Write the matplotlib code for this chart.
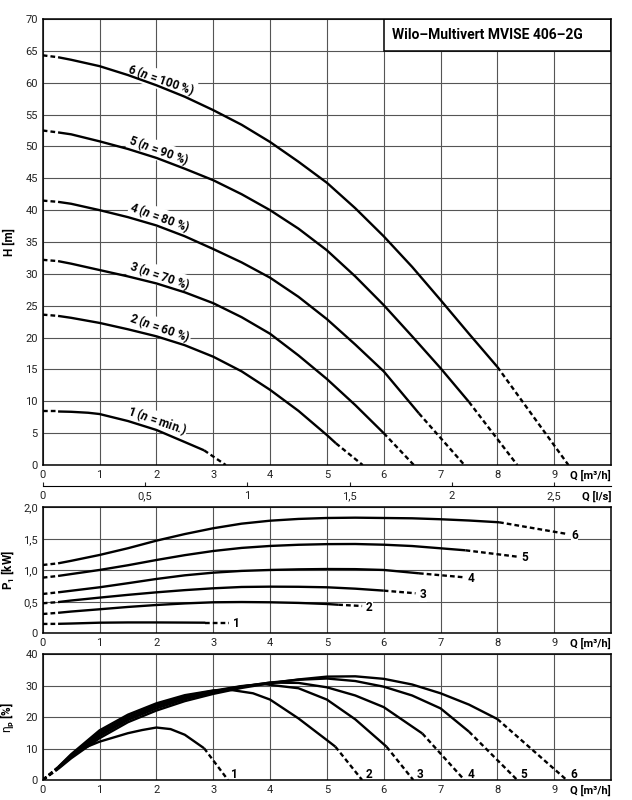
import matplotlib.pyplot as plt
from matplotlib.patches import Rectangle

FONT = 'Roboto'
plt.rcParams['font.family'] = [FONT, 'DejaVu Sans']
plt.rcParams['mathtext.fontset'] = 'custom'
plt.rcParams['mathtext.rm'] = FONT
plt.rcParams['mathtext.bf'] = FONT + ':bold'
plt.rcParams['mathtext.it'] = FONT + ':italic:bold'
plt.rcParams['mathtext.sf'] = FONT

# ---- data (Q in m3/h) ----
# each curve: first segment and last segment are dashed, rest solid
# head H [m]
q_h1 = [0, 0.27, 0.5, 0.8, 1, 1.5, 2, 2.5, 2.84, 3.22]
h_1 = [8.4, 8.4, 8.35, 8.2, 8.0, 6.9, 5.5, 3.6, 2.3, 0]
q_h2 = [0, 0.27, 0.5, 1, 1.5, 2, 2.5, 3, 3.5, 4, 4.5, 5, 5.16, 5.63]
h_2 = [23.6, 23.4, 23.1, 22.3, 21.3, 20.2, 18.8, 17.0, 14.7, 11.8, 8.5, 4.7, 3.4, 0]
q_h3 = [0, 0.27, 0.5, 1, 1.5, 2, 2.5, 3, 3.5, 4, 4.5, 5, 5.5, 6, 6.53]
h_3 = [32.2, 32.0, 31.6, 30.6, 29.6, 28.5, 27.1, 25.4, 23.2, 20.6, 17.2, 13.5, 9.4, 5.0, 0]
q_h4 = [0, 0.27, 0.5, 1, 1.5, 2, 2.5, 3, 3.5, 4, 4.5, 5, 5.5, 6, 6.62, 7.42]
h_4 = [41.5, 41.3, 41.0, 40.0, 38.9, 37.6, 35.9, 33.9, 31.8, 29.4, 26.4, 22.9, 18.9, 14.7, 8.1, 0]
q_h5 = [0, 0.27, 0.5, 1, 1.5, 2, 2.5, 3, 3.5, 4, 4.5, 5, 5.5, 6, 6.5, 7, 7.5, 8.35]
h_5 = [52.5, 52.2, 51.9, 50.8, 49.6, 48.2, 46.5, 44.7, 42.5, 40.0, 37.1, 33.7, 29.6, 25.1, 20.2, 15.2, 9.9, 0]
q_h6 = [0, 0.27, 0.5, 1, 1.5, 2, 2.5, 3, 3.5, 4, 4.5, 5, 5.5, 6, 6.5, 7, 7.5, 8.0, 9.25]
h_6 = [64.3, 64.0, 63.6, 62.6, 61.2, 59.6, 57.8, 55.7, 53.4, 50.7, 47.6, 44.3, 40.3, 35.9, 31.1, 25.9, 20.6, 15.4, 0]

# power P1 [kW]
q_p1 = [0, 0.27, 0.5, 1, 1.5, 2, 2.5, 2.86, 3.27]
p_1 = [0.148, 0.15, 0.155, 0.168, 0.172, 0.172, 0.17, 0.168, 0.168]
q_p2 = [0, 0.27, 0.5, 1, 1.5, 2, 2.5, 3, 3.5, 4, 4.5, 5, 5.2, 5.62]
p_2 = [0.306, 0.325, 0.345, 0.381, 0.418, 0.449, 0.474, 0.492, 0.496, 0.492, 0.482, 0.465, 0.453, 0.433]
q_p3 = [0, 0.27, 0.5, 1, 1.5, 2, 2.5, 3, 3.5, 4, 4.5, 5, 5.5, 6, 6.56]
p_3 = [0.476, 0.495, 0.52, 0.566, 0.61, 0.65, 0.685, 0.714, 0.735, 0.74, 0.738, 0.73, 0.708, 0.677, 0.635]
q_p4 = [0, 0.27, 0.5, 1, 1.5, 2, 2.5, 3, 3.5, 4, 4.5, 5, 5.5, 6, 6.62, 7.41]
p_4 = [0.624, 0.65, 0.675, 0.73, 0.795, 0.862, 0.92, 0.962, 0.99, 1.005, 1.015, 1.02, 1.018, 1.005, 0.952, 0.889]
q_p5 = [0, 0.27, 0.5, 1, 1.5, 2, 2.5, 3, 3.5, 4, 4.5, 5, 5.5, 6, 6.5, 7, 7.44, 8.35]
p_5 = [0.883, 0.91, 0.94, 1.005, 1.08, 1.163, 1.24, 1.306, 1.355, 1.386, 1.405, 1.415, 1.417, 1.406, 1.385, 1.349, 1.317, 1.216]
q_p6 = [0, 0.27, 0.5, 1, 1.5, 2, 2.5, 3, 3.5, 4, 4.5, 5, 5.5, 6, 6.5, 7, 7.5, 8.03, 9.23]
p_6 = [1.084, 1.11, 1.15, 1.243, 1.35, 1.47, 1.575, 1.667, 1.74, 1.787, 1.815, 1.83, 1.835, 1.83, 1.825, 1.81, 1.79, 1.762, 1.576]

# efficiency eta_p [%]
q_e1 = [0, 0.27, 0.5, 0.7, 1, 1.5, 1.75, 2, 2.25, 2.5, 2.84, 3.26]
e_1 = [0, 3.8, 7.5, 10.0, 12.2, 14.9, 15.9, 16.7, 16.2, 14.4, 10.1, 0]
q_e2 = [0, 0.27, 0.5, 1, 1.5, 2, 2.5, 3, 3.3, 3.7, 4, 4.5, 5, 5.15, 5.62]
e_2 = [0, 4.1, 8.2, 15.8, 20.8, 24.4, 27.0, 28.5, 28.7, 27.6, 25.6, 19.6, 12.7, 10.6, 0]
q_e3 = [0, 0.27, 0.5, 1, 1.5, 2, 2.5, 3, 3.5, 3.9, 4.5, 5, 5.5, 6.05, 6.52]
e_3 = [0, 4.0, 7.9, 15.2, 20.2, 23.9, 26.6, 28.4, 29.9, 30.5, 29.2, 25.6, 19.3, 10.6, 0]
q_e4 = [0, 0.27, 0.5, 1, 1.5, 2, 2.5, 3, 3.5, 4, 4.5, 5, 5.5, 6, 6.68, 7.42]
e_4 = [0, 3.8, 7.6, 14.6, 19.6, 23.4, 26.1, 28.2, 29.8, 31.0, 30.9, 29.5, 26.9, 23.2, 14.8, 0]
q_e5 = [0, 0.27, 0.5, 1, 1.5, 2, 2.5, 3, 3.5, 4, 4.5, 5, 5.5, 6, 6.5, 7, 7.5, 8.35]
e_5 = [0, 3.7, 7.3, 14.0, 19.1, 22.8, 25.7, 27.9, 29.7, 31.0, 31.9, 32.3, 31.5, 29.7, 26.9, 22.8, 15.4, 0]
q_e6 = [0, 0.27, 0.5, 1, 1.5, 2, 2.5, 3, 3.5, 4, 4.5, 5, 5.5, 6, 6.5, 7, 7.5, 8.0, 9.22]
e_6 = [0, 3.5, 6.9, 13.3, 18.4, 22.1, 25.1, 27.4, 29.3, 30.8, 32.0, 32.9, 33.0, 32.2, 30.4, 27.6, 24.0, 19.4, 0]

curve_names = ['1', '2', '3', '4', '5', '6']
head_labels = ['1 ($n$ = min.)', '2 ($n$ = 60 %)', '3 ($n$ = 70 %)',
               '4 ($n$ = 80 %)', '5 ($n$ = 90 %)', '6 ($n$ = 100 %)']
head_label_x = [2.01, 2.06, 2.06, 2.06, 2.04, 2.09]
head_label_y = [6.9, 21.5, 29.7, 38.8, 49.3, 60.4]
head_label_rot = [-19, -19, -19, -20, -20, -19]

h_ticks = list(range(0, 75, 5))
p_ticks = [0, 0.5, 1.0, 1.5, 2.0]
p_tick_labels = ['0', '0,5', '1,0', '1,5', '2,0']
e_ticks = [0, 10, 20, 30, 40]
ls_ticks = [0, 0.5, 1, 1.5, 2, 2.5]
ls_tick_labels = ['0', '0,5', '1', '1,5', '2', '2,5']
title = 'Wilo\u2013Multivert MVISE 406\u20132G'

LW = 1.7
DASH = (0, (2.0, 1.3))


def draw_curve(ax, q, v):
    ax.plot(q[:2], v[:2], color='black', lw=LW, ls=DASH, zorder=3)
    ax.plot(q[1:-1], v[1:-1], color='black', lw=LW, zorder=3,
            solid_capstyle='butt', solid_joinstyle='round')
    ax.plot(q[-2:], v[-2:], color='black', lw=LW, ls=DASH, zorder=3)


def style_axes(ax, yticks, ytick_labels, ymax, ylabel):
    ax.set_xlim(0, 10)
    ax.set_ylim(0, ymax)
    ax.set_xticks(range(10))
    ax.set_yticks(yticks)
    ax.set_yticklabels(ytick_labels)
    ax.set_axisbelow(True)
    ax.grid(True, color='#555555', lw=0.8)
    ax.tick_params(length=0, pad=3.5, labelsize=8, colors='#222222')
    for s in ax.spines.values():
        s.set_linewidth(1.1)
    ax.set_ylabel(ylabel, fontweight='bold', fontsize=8.5)
    ax.yaxis.set_label_coords(-0.047, 0.5)
    ax.annotate('Q [m³/h]', xy=(1, 0), xycoords='axes fraction',
                xytext=(0, -3.5), textcoords='offset points',
                ha='right', va='top', fontweight='bold', fontsize=8)


fig = plt.figure(figsize=(6.32, 8), dpi=100)
ax_h = fig.add_axes([0.0676, 0.41875, 0.8992, 0.5575])
ax_p = fig.add_axes([0.0676, 0.2084, 0.8992, 0.1575])
ax_e = fig.add_axes([0.0676, 0.025, 0.8992, 0.1571])

# ---- head ----
style_axes(ax_h, h_ticks, [str(t) for t in h_ticks], 70, 'H [m]')
for q, h in zip([q_h1, q_h2, q_h3, q_h4, q_h5, q_h6],
                [h_1, h_2, h_3, h_4, h_5, h_6]):
    draw_curve(ax_h, q, h)
for txt, x, y, r in zip(head_labels, head_label_x, head_label_y, head_label_rot):
    ax_h.text(x, y, txt, rotation=r, rotation_mode='anchor', ha='center',
              va='center', fontsize=8.5, fontweight='bold', zorder=2.5,
              bbox=dict(fc='white', ec='none', pad=0.6))
ax_h.add_patch(Rectangle((6, 65), 4, 5, fc='white', ec='black', lw=1.1, zorder=2))
ax_h.text(6.15, 67.55, title, fontsize=10, fontweight='bold', va='center', zorder=3)

# l/s scale under the head chart
loc = -0.0464
sec = ax_h.secondary_xaxis(loc, functions=(lambda q: q / 3.6, lambda l: l * 3.6))
sec.set_xticks(ls_ticks)
sec.set_xticklabels(ls_tick_labels)
sec.tick_params(direction='in', length=3, width=0.8, pad=4, labelsize=8,
                colors='#222222')
sec.spines['bottom'].set_linewidth(0.8)
ax_h.annotate('Q [l/s]', xy=(1, loc), xycoords='axes fraction',
              xytext=(0, -4), textcoords='offset points',
              ha='right', va='top', fontweight='bold', fontsize=8)

# ---- power ----
style_axes(ax_p, p_ticks, p_tick_labels, 2.0, '$\\mathbf{P_1}$ [kW]')
for name, q, p in zip(curve_names,
                      [q_p1, q_p2, q_p3, q_p4, q_p5, q_p6],
                      [p_1, p_2, p_3, p_4, p_5, p_6]):
    draw_curve(ax_p, q, p)
    ax_p.text(q[-1] + 0.07, p[-1] - 0.02, name, ha='left', va='center',
              fontsize=8.5, fontweight='bold', zorder=2.5,
              bbox=dict(fc='white', ec='none', pad=0.3))

# ---- efficiency ----
style_axes(ax_e, e_ticks, [str(t) for t in e_ticks], 40,
           '$\\mathrm{\\eta}_\\mathbf{p}$ [%]')
for name, q, e in zip(curve_names,
                      [q_e1, q_e2, q_e3, q_e4, q_e5, q_e6],
                      [e_1, e_2, e_3, e_4, e_5, e_6]):
    draw_curve(ax_e, q, e)
    ax_e.text(q[-1] + 0.06, 1.6, name, ha='left', va='center',
              fontsize=8.5, fontweight='bold', zorder=2.5)

fig.savefig('out.png', dpi=100)
